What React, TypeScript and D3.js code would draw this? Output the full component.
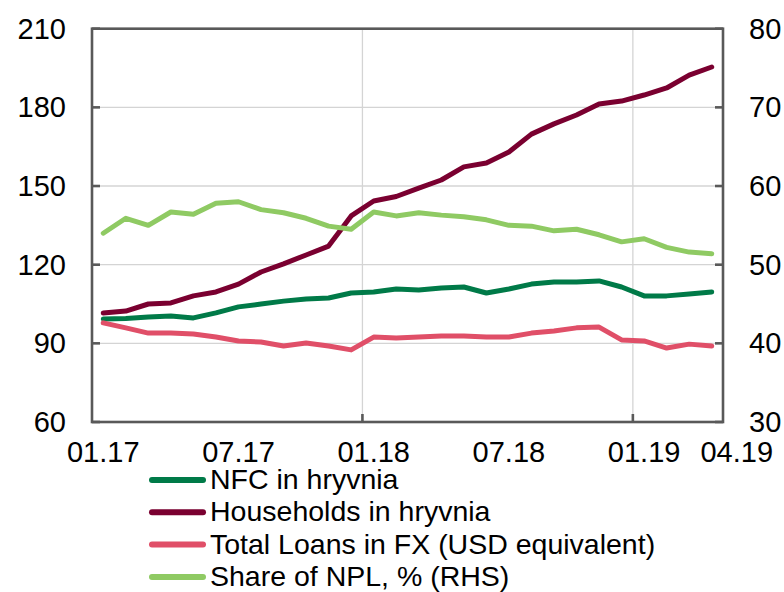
import React, { useRef, useEffect } from 'react';
import * as d3 from 'd3';

const months = [
  '01.17', '02.17', '03.17', '04.17', '05.17', '06.17', '07.17', '08.17', '09.17', '10.17', '11.17', '12.17',
  '01.18', '02.18', '03.18', '04.18', '05.18', '06.18', '07.18', '08.18', '09.18', '10.18', '11.18', '12.18',
  '01.19', '02.19', '03.19', '04.19'
];
const shownTicks = ['01.17', '07.17', '01.18', '07.18', '01.19', '04.19'];
const yearStarts = ['01.18', '01.19'];

const nfc = [
  99.3, 99.5, 100.0, 100.4, 99.7, 101.6, 103.9, 105.0, 106.1, 106.9, 107.3, 109.2,
  109.6, 110.7, 110.3, 111.1, 111.5, 109.2, 110.7, 112.6, 113.4, 113.4, 113.8, 111.5,
  108.1, 108.1, 108.8, 109.6
];
const households = [
  101.6, 102.3, 105.0, 105.4, 108.1, 109.6, 112.6, 117.2, 120.3, 123.7, 127.1, 138.6,
  144.3, 146.0, 149.2, 152.3, 157.3, 158.8, 163.0, 169.8, 173.7, 177.1, 181.3, 182.4,
  184.7, 187.4, 192.3, 195.4
];
const fxLoans = [
  97.8, 95.9, 93.9, 93.9, 93.6, 92.4, 90.9, 90.5, 89.0, 90.1, 89.0, 87.5,
  92.4, 92.0, 92.4, 92.8, 92.8, 92.4, 92.4, 93.9, 94.7, 95.9, 96.2, 91.3,
  90.9, 88.2, 89.7, 89.0
];
const nplShare = [
  54.0, 55.9, 55.0, 56.7, 56.4, 57.8, 58.0, 57.0, 56.6, 55.9, 54.9, 54.5,
  56.7, 56.2, 56.6, 56.3, 56.1, 55.7, 55.0, 54.9, 54.3, 54.5, 53.8, 52.9,
  53.3, 52.2, 51.6, 51.4
];

const leftTicks = [60, 90, 120, 150, 180, 210];
const rightTicks = [30, 40, 50, 60, 70, 80];

const series = [
  { name: 'NFC in hryvnia', values: nfc, color: '#007a48', axis: 'left' },
  { name: 'Households in hryvnia', values: households, color: '#7a0030', axis: 'left' },
  { name: 'Total Loans in FX (USD equivalent)', values: fxLoans, color: '#e04f68', axis: 'left' },
  { name: 'Share of NPL, % (RHS)', values: nplShare, color: '#8fca63', axis: 'right' }
];

const App = () => {
  const ref = useRef<SVGSVGElement>(null);

  useEffect(() => {
    const svg = d3.select(ref.current);
    svg.selectAll('*').remove();

    const left = 92, right = 723, top = 28.7, bottom = 422;
    const font = '"Liberation Sans", Arial, sans-serif';
    const axisColor = '#595959';
    const gridColor = '#d4d4d4';

    const x = d3.scaleBand().domain(months).range([left, right]).padding(0);
    const yL = d3.scaleLinear().domain([60, 210]).range([bottom, top]);
    const yR = d3.scaleLinear().domain([30, 80]).range([bottom, top]);
    const cx = (m: string) => (x(m) as number) + x.bandwidth() / 2;

    // horizontal grid
    svg.append('g').selectAll('line')
      .data(leftTicks.slice(1, -1))
      .enter().append('line')
      .attr('x1', left).attr('x2', right)
      .attr('y1', d => yL(d)).attr('y2', d => yL(d))
      .attr('stroke', gridColor).attr('stroke-width', 1.3);

    // vertical grid at year starts
    svg.append('g').selectAll('line')
      .data(yearStarts)
      .enter().append('line')
      .attr('x1', d => x(d) as number).attr('x2', d => x(d) as number)
      .attr('y1', top).attr('y2', bottom)
      .attr('stroke', gridColor).attr('stroke-width', 1.3);

    // lines
    series.forEach(s => {
      const y = s.axis === 'left' ? yL : yR;
      const line = d3.line<number>()
        .x((_, i) => cx(months[i]))
        .y(d => y(d));
      svg.append('path')
        .datum(s.values)
        .attr('d', line)
        .attr('fill', 'none')
        .attr('stroke', s.color)
        .attr('stroke-width', 5)
        .attr('stroke-linejoin', 'round')
        .attr('stroke-linecap', 'round');
    });

    // frame
    const frame = svg.append('g').attr('stroke', axisColor).attr('stroke-width', 2.6).attr('fill', 'none');
    frame.append('rect').attr('x', left).attr('y', top).attr('width', right - left).attr('height', bottom - top);

    // ticks
    const ticks = svg.append('g').attr('stroke', axisColor).attr('stroke-width', 2.6);
    ticks.selectAll('.tl').data(leftTicks).enter().append('line')
      .attr('x1', left).attr('x2', left + 8)
      .attr('y1', d => yL(d)).attr('y2', d => yL(d));
    ticks.selectAll('.tr').data(rightTicks).enter().append('line')
      .attr('x1', right - 8).attr('x2', right)
      .attr('y1', d => yR(d)).attr('y2', d => yR(d));
    ticks.selectAll('.tb').data(yearStarts).enter().append('line')
      .attr('x1', d => x(d) as number).attr('x2', d => x(d) as number)
      .attr('y1', bottom - 8).attr('y2', bottom);

    // tick labels
    const labels = svg.append('g').attr('font-family', font).attr('font-size', 29).attr('fill', '#000');
    labels.selectAll('.ll').data(leftTicks).enter().append('text')
      .attr('x', 66).attr('y', d => yL(d) + 10)
      .attr('text-anchor', 'end')
      .text(d => d);
    labels.selectAll('.rl').data(rightTicks).enter().append('text')
      .attr('x', 749).attr('y', d => yR(d) + 10)
      .attr('text-anchor', 'start')
      .text(d => d);
    labels.selectAll('.xl').data(shownTicks).enter().append('text')
      .attr('x', (d, i) => cx(d) + (i === shownTicks.length - 1 ? 25 : 0))
      .attr('y', 462)
      .attr('text-anchor', 'middle')
      .text(d => d);

    // legend
    const legend = svg.append('g').attr('font-family', font).attr('font-size', 28.5);
    series.forEach((s, i) => {
      const ly = 480 + i * 32.3;
      legend.append('line')
        .attr('x1', 152).attr('x2', 203)
        .attr('y1', ly).attr('y2', ly)
        .attr('stroke', s.color).attr('stroke-width', 6)
        .attr('stroke-linecap', 'round');
      legend.append('text')
        .attr('x', 210).attr('y', ly + 9)
        .attr('fill', '#000')
        .text(s.name);
    });
  }, []);

  return (
    <svg
      ref={ref}
      width={784}
      height={592}
      style={{ position: 'absolute', left: 0, top: 0, background: '#fff' }}
    />
  );
};

export default App;
